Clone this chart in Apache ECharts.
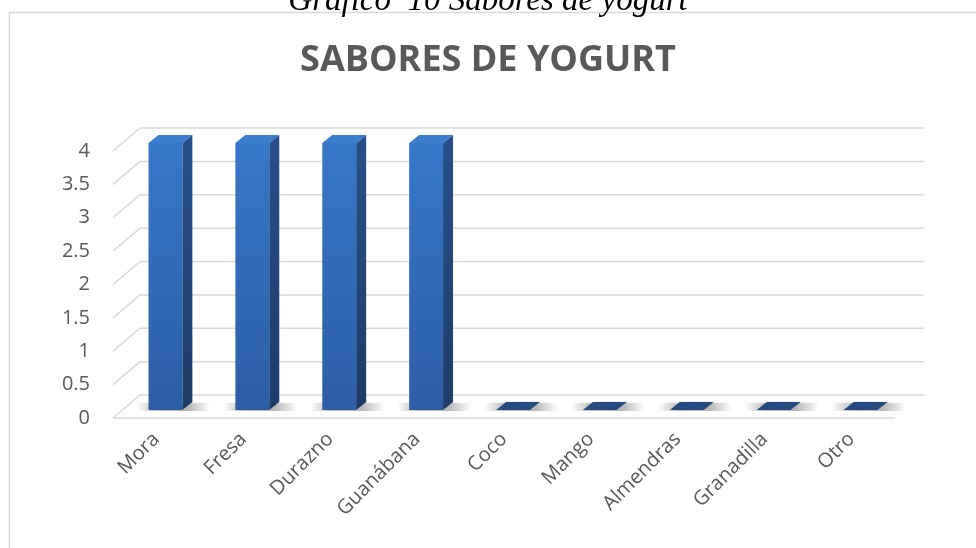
<!DOCTYPE html>
<html>
<head>
<meta charset="utf-8">
<script src="https://cdn.jsdelivr.net/npm/echarts@6/dist/echarts.min.js"></script>
<style>html,body{margin:0;padding:0;background:#fff;}#c{width:976px;height:548px;}</style>
</head>
<body>
<div id="c"></div>
<script>
var categories = ['Mora', 'Fresa', 'Durazno', 'Guanábana', 'Coco', 'Mango', 'Almendras', 'Granadilla', 'Otro'];
var values = [4, 4, 4, 4, 0, 0, 0, 0, 0];
var yTicks = [0, 0.5, 1, 1.5, 2, 2.5, 3, 3.5, 4];
var captionText = 'Gráfico  10 Sabores de yogurt';
var titleText = 'SABORES DE YOGURT';

var chart = echarts.init(document.getElementById('c'), null, {renderer: 'canvas'});

var WALL_DX = 27, WALL_DY = -23;   // depth of the back wall
var BAR_OX = 9, BAR_OY = -8;       // bar front offset from the front plane
var BAR_DX = 10, BAR_DY = -8;      // bar depth
var GRID_COLOR = '#d9d9d9';

function renderGrid(params, api) {
  var cs = params.coordSys;
  var p = api.coord([0, api.value(1)]);
  var y = p[1];
  var left = cs.x, right = cs.x + cs.width;
  var children = [
    {type: 'line', shape: {x1: left + WALL_DX, y1: y + WALL_DY, x2: right + WALL_DX + 2, y2: y + WALL_DY},
      style: {stroke: GRID_COLOR, lineWidth: 1.5}},
    {type: 'line', shape: {x1: left, y1: y, x2: left + WALL_DX, y2: y + WALL_DY},
      style: {stroke: GRID_COLOR, lineWidth: 1.5}}
  ];
  if (api.value(1) === 0) {
    children.push({type: 'line', shape: {x1: left, y1: y, x2: right, y2: y},
      style: {stroke: GRID_COLOR, lineWidth: 1.5}});
  }
  return {type: 'group', children: children};
}

function renderBar(params, api) {
  var idx = api.value(0);
  var base = api.coord([idx, 0]);
  var top = api.coord([idx, api.value(1)]);
  var band = api.size([1, 0])[0];
  var w = band * 0.39;
  var x0 = base[0] - w / 2 + BAR_OX;
  var by = base[1] + BAR_OY;
  var ty = top[1] + BAR_OY;
  var flat = (by - ty) < 1;
  var children = [];
  // soft floor shadow (horizontal fade)
  children.push({type: 'rect',
    shape: {x: x0 - 12, y: by + BAR_DY + 1, width: w + BAR_DX + 30, height: -BAR_DY},
    style: {fill: new echarts.graphic.LinearGradient(0, 0, 1, 0, [
      {offset: 0, color: 'rgba(0,0,0,0)'},
      {offset: 0.3, color: 'rgba(0,0,0,0.28)'},
      {offset: 0.7, color: 'rgba(0,0,0,0.28)'},
      {offset: 1, color: 'rgba(0,0,0,0)'}])}});
  children.push({type: 'rect',
    shape: {x: x0 - 6, y: by + BAR_DY - 1, width: w + BAR_DX + 18, height: 2},
    style: {fill: new echarts.graphic.LinearGradient(0, 0, 1, 0, [
      {offset: 0, color: 'rgba(0,0,0,0)'},
      {offset: 0.5, color: 'rgba(0,0,0,0.1)'},
      {offset: 1, color: 'rgba(0,0,0,0)'}])}});
  if (!flat) {
    children.push({type: 'polygon',
      shape: {points: [[x0, by], [x0 + w, by], [x0 + w, ty], [x0, ty]]},
      style: {fill: new echarts.graphic.LinearGradient(0, 0, 0, 1, [
        {offset: 0, color: '#3777c8'}, {offset: 1, color: '#2c5ea6'}])}});
    children.push({type: 'polygon',
      shape: {points: [[x0 + w, by], [x0 + w + BAR_DX, by + BAR_DY], [x0 + w + BAR_DX, ty + BAR_DY], [x0 + w, ty]]},
      style: {fill: new echarts.graphic.LinearGradient(0, 0, 0, 1, [
        {offset: 0, color: '#27508a'}, {offset: 1, color: '#1d3c68'}])}});
  }
  children.push({type: 'polygon',
    shape: {points: [[x0, ty], [x0 + w, ty], [x0 + w + BAR_DX, ty + BAR_DY], [x0 + BAR_DX, ty + BAR_DY]]},
    style: {fill: flat ? '#244a80' : '#3c7ccd'}});
  return {type: 'group', children: children};
}

var option = {
  backgroundColor: '#ffffff',
  animation: false,
  title: {
    text: titleText,
    left: 'center',
    top: 38,
    textStyle: {fontFamily: 'Open Sans', fontWeight: 'bold', fontSize: 36, color: '#595959'}
  },
  graphic: [
    {type: 'rect', shape: {x: 9.5, y: 12.5, width: 1000, height: 600},
      style: {fill: 'none', stroke: '#d9d9d9', lineWidth: 1.5}, z: 0},
    {type: 'text', left: 'center', y: 1,
      style: {text: captionText, font: 'italic 33px "Liberation Serif"', fill: '#000', verticalAlign: 'middle'}}
  ],
  grid: {left: 113, right: 81, top: 151, bottom: 130, containLabel: false},
  xAxis: {
    type: 'category',
    data: categories,
    boundaryGap: true,
    axisLine: {show: false},
    axisTick: {show: false},
    splitLine: {show: false},
    axisLabel: {rotate: 45, fontFamily: 'Open Sans', fontSize: 20, color: '#595959', margin: 18, interval: 0}
  },
  yAxis: {
    type: 'value',
    min: 0, max: 4, interval: 0.5,
    axisLine: {show: false},
    axisTick: {show: false},
    splitLine: {show: false},
    axisLabel: {fontFamily: 'Open Sans', fontSize: 20, color: '#595959', margin: 23}
  },
  series: [
    {
      type: 'custom',
      name: 'grid',
      renderItem: renderGrid,
      encode: {x: 0, y: 1},
      data: yTicks.map(function (v) { return [0, v]; }),
      z: 1,
      silent: true
    },
    {
      type: 'custom',
      name: 'Sabores',
      renderItem: renderBar,
      encode: {x: 0, y: 1},
      data: values.map(function (v, i) { return [i, v]; }),
      z: 3
    }
  ]
};
chart.setOption(option);
</script>
</body>
</html>
